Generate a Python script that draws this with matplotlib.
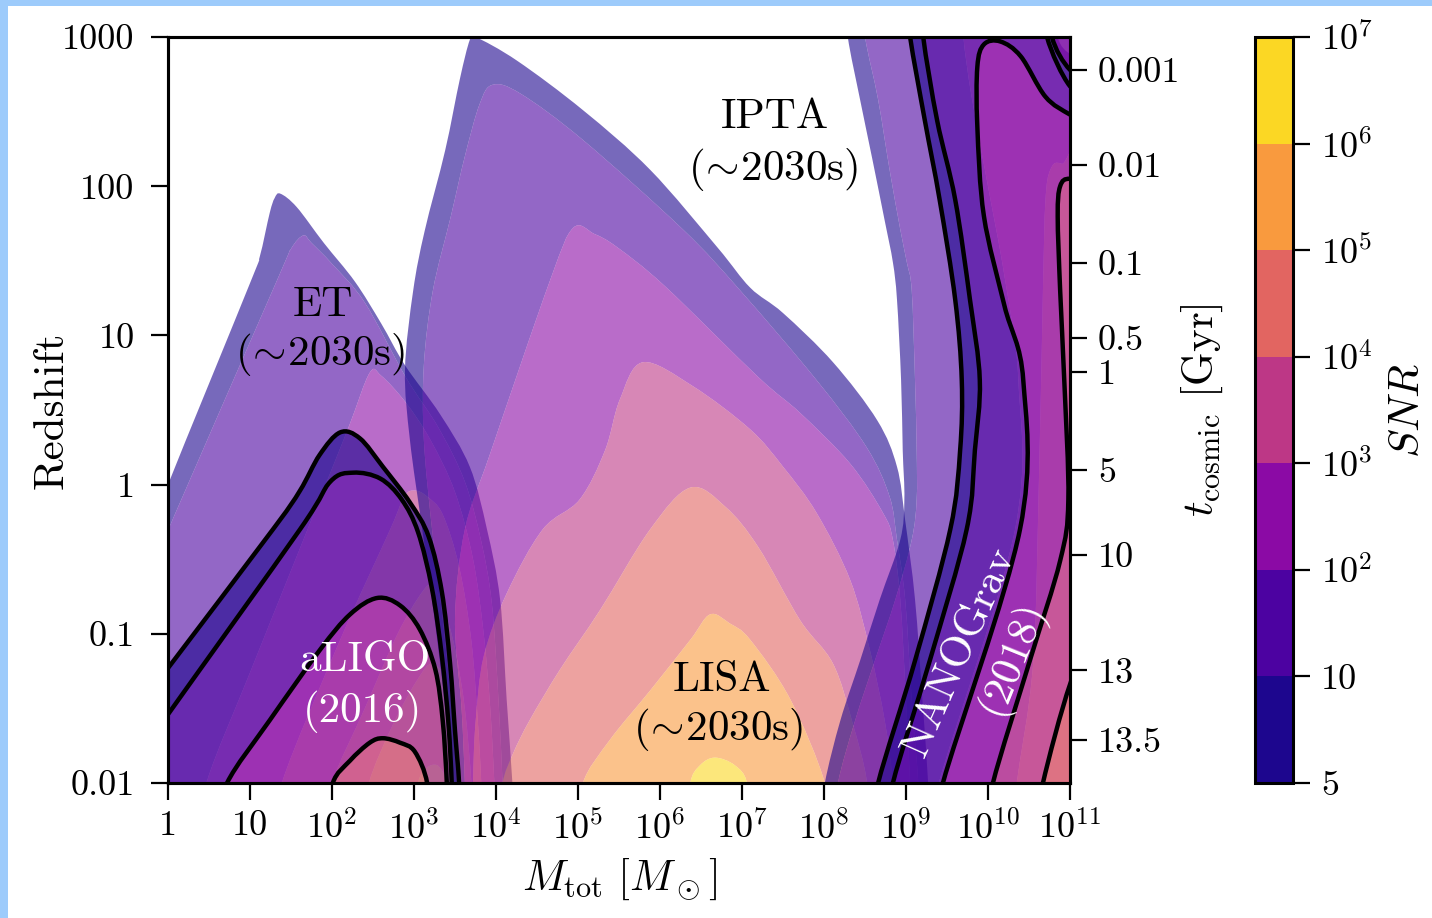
import numpy as np
import matplotlib
matplotlib.use("Agg")
import matplotlib.pyplot as plt
from matplotlib.path import Path
from matplotlib.patches import PathPatch, Rectangle
from matplotlib.colors import LogNorm, ListedColormap, BoundaryNorm
from matplotlib.cm import ScalarMappable
from matplotlib.ticker import NullLocator

plt.rcParams['font.family'] = ['cmr10', 'DejaVu Serif']
plt.rcParams['mathtext.fontset'] = 'cm'
plt.rcParams['axes.unicode_minus'] = False

# SNR levels of the filled contours
snr_levels = [5, 10, 1e2, 1e3, 1e4, 1e5, 1e6, 1e7]
snr_ticklabels = ['5', '10', r'$10^2$', r'$10^3$', r'$10^4$', r'$10^5$', r'$10^6$', r'$10^7$']

# contour boundaries, as (log10 M_tot, log10 z)
# one list per SNR threshold: 5, 10, 100, 1e3, ...
et_snr5 = [(-0.3, -2.3), (-0.3, -0.45), (0.0, 0.0), (1.0, 1.35), (1.12, 1.53), (1.24, 1.82), (1.30, 1.92),
           (1.37, 1.95), (1.57, 1.86), (1.9, 1.62), (2.28, 1.36), (2.6, 1.08), (2.89, 0.80), (3.32, 0.47),
           (3.68, 0.12), (3.89, -0.30), (4.05, -0.77), (4.13, -1.44), (4.20, -2.0), (4.22, -2.3)]
et_snr10 = [(-0.3, -2.3), (-0.3, -0.7), (0.02, -0.28), (1.33, 1.37), (1.5, 1.58), (1.65, 1.67), (1.75, 1.62),
            (2.0, 1.48), (2.40, 1.22), (2.9, 0.72), (3.3, 0.38), (3.62, 0.02), (3.82, -0.38), (3.95, -0.8),
            (4.03, -1.44), (4.08, -2.0), (4.10, -2.3)]
et_snr100 = [(0.42, -2.3), (0.48, -1.98), (1.0, -1.26), (1.49, -0.59), (1.98, 0.08), (2.22, 0.41),
             (2.46, 0.75), (2.6, 0.73), (2.9, 0.55), (3.2, 0.3), (3.5, -0.05), (3.72, -0.5), (3.85, -1.0),
             (3.93, -1.5), (3.98, -2.0), (4.0, -2.3)]
et_snr1e3 = [(1.35, -2.3), (1.40, -1.98), (2.10, -1.04), (2.71, -0.30), (2.88, -0.08), (3.01, -0.04),
             (3.16, -0.08), (3.35, -0.2), (3.55, -0.55), (3.7, -1.05), (3.78, -1.6), (3.82, -2.0), (3.83, -2.3)]
et_snr1e4 = [(1.95, -2.3), (2.0, -2.0), (2.4, -1.5), (2.8, -1.0), (3.1, -0.72), (3.22, -0.68), (3.35, -0.8),
             (3.5, -1.1), (3.62, -1.5), (3.7, -2.0), (3.71, -2.3)]
et_snr1e5 = [(2.4, -2.3), (2.45, -2.0), (2.75, -1.6), (3.05, -1.3), (3.22, -1.2), (3.38, -1.3), (3.5, -1.6),
             (3.58, -2.0), (3.59, -2.3)]
et_snr1e6 = [(3.0, -2.3), (3.05, -2.0), (3.15, -1.9), (3.28, -1.88), (3.38, -1.95), (3.42, -2.0), (3.43, -2.3)]

ligo_snr5 = [(-0.3, -2.3), (-0.3, -1.45), (0.0, -1.23), (1.28, -0.30), (1.61, -0.04), (1.85, 0.20), (2.10, 0.35),
             (2.34, 0.31), (2.62, 0.12), (2.95, -0.12), (3.18, -0.35), (3.34, -0.72), (3.44, -1.2),
             (3.50, -1.65), (3.55, -2.0), (3.56, -2.3)]
ligo_snr10 = [(-0.3, -2.3), (-0.3, -1.78), (0.0, -1.54), (1.61, -0.30), (1.98, 0.02), (2.26, 0.08), (2.59, 0.04),
              (2.85, -0.10), (3.05, -0.32), (3.22, -0.70), (3.34, -1.15), (3.42, -1.6), (3.46, -2.0), (3.47, -2.3)]
ligo_snr100 = [(0.6, -2.3), (0.72, -2.0), (1.24, -1.58), (1.85, -1.11), (2.22, -0.87), (2.55, -0.76),
               (2.83, -0.81), (3.07, -0.97), (3.26, -1.24), (3.35, -1.58), (3.40, -2.0), (3.41, -2.3)]
ligo_snr1e3 = [(1.95, -2.3), (2.01, -2.0), (2.22, -1.85), (2.46, -1.73), (2.62, -1.70), (2.83, -1.73),
               (3.01, -1.79), (3.16, -2.0), (3.17, -2.3)]

lisa_snr5 = [(3.45, -2.3), (3.45, -2.0), (3.38, -1.5), (3.25, -0.9), (3.1, -0.3), (2.95, 0.3), (2.89, 0.77),
             (2.99, 1.30), (3.13, 1.70), (3.38, 2.24), (3.56, 2.72), (3.68, 2.98), (3.75, 3.0), (4.26, 2.84),
             (5.06, 2.51), (5.88, 2.11), (6.70, 1.59), (7.10, 1.32), (7.50, 1.15), (8.11, 0.82), (8.65, 0.43),
             (8.89, 0.12), (8.99, -0.24), (9.11, -0.77), (9.20, -1.44), (9.27, -2.0), (9.28, -2.3)]
lisa_snr10 = [(3.52, -2.3), (3.52, -2.0), (3.46, -1.5), (3.35, -0.9), (3.22, -0.3), (3.12, 0.3), (3.12, 0.8),
              (3.23, 1.30), (3.45, 1.80), (3.62, 2.2), (3.80, 2.55), (3.96, 2.68), (4.3, 2.62), (5.06, 2.31),
              (6.28, 1.71), (6.98, 1.30), (7.91, 0.70), (8.52, 0.25), (8.80, -0.08), (8.89, -0.37),
              (8.99, -0.77), (9.07, -1.44), (9.15, -2.0), (9.16, -2.3)]
lisa_snr100 = [(3.62, -2.3), (3.62, -2.0), (3.58, -1.5), (3.5, -0.9), (3.62, -0.30), (3.93, 0.21),
               (4.66, 1.37), (4.94, 1.72), (5.2, 1.68), (5.48, 1.59), (6.06, 1.33), (7.2, 0.72), (7.71, 0.48),
               (8.32, 0.14), (8.72, -0.19), (8.84, -0.37), (8.93, -0.77), (9.0, -1.44), (9.05, -2.0), (9.06, -2.3)]
lisa_snr1e3 = [(3.72, -2.3), (3.72, -2.0), (3.75, -1.6), (3.85, -1.15), (4.13, -0.73), (4.57, -0.30),
               (5.02, -0.10), (5.33, 0.23), (5.51, 0.57), (5.79, 0.82), (6.4, 0.66), (7.10, 0.37), (7.50, 0.12),
               (7.91, -0.19), (8.32, -0.64), (8.56, -1.11), (8.74, -1.58), (8.84, -2.0), (8.85, -2.3)]
lisa_snr1e4 = [(4.05, -2.3), (4.08, -2.0), (4.21, -1.80), (4.41, -1.58), (4.78, -1.24), (5.27, -0.84),
               (5.88, -0.30), (6.37, -0.02), (6.8, -0.15), (7.2, -0.42), (7.71, -0.91), (8.11, -1.20),
               (8.35, -1.6), (8.52, -1.98), (8.53, -2.3)]
lisa_snr1e5 = [(5.06, -2.3), (5.06, -2.0), (5.39, -1.71), (5.88, -1.38), (6.37, -1.04), (6.61, -0.87),
               (6.85, -0.93), (7.10, -1.04), (7.59, -1.44), (8.01, -2.0), (8.02, -2.3)]
lisa_snr1e6 = [(6.37, -2.3), (6.37, -2.0), (6.49, -1.88), (6.67, -1.83), (6.91, -1.88), (7.06, -2.0), (7.06, -2.3)]

ipta_snr5 = [(7.95, -2.3), (8.01, -2.0), (8.20, -1.58), (8.44, -1.18), (8.68, -0.77), (8.93, -0.37), (8.98, -0.10),
             (8.96, 0.23), (8.94, 0.70), (8.89, 1.24), (8.84, 1.49), (8.74, 1.77), (8.59, 2.18), (8.44, 2.58),
             (8.29, 3.0), (8.25, 3.3), (10.82, 3.3), (10.85, 3.0), (11.02, 2.88), (11.3, 2.85), (11.3, -2.3)]
ipta_snr10 = [(8.12, -2.3), (8.17, -2.0), (8.38, -1.58), (8.62, -1.18), (8.87, -0.77), (9.07, -0.37),
              (9.13, -0.10), (9.13, 0.23), (9.11, 0.70), (9.07, 1.30), (9.01, 1.49), (8.93, 1.71), (8.80, 2.11),
              (8.66, 2.58), (8.50, 3.0), (8.45, 3.3), (10.76, 3.3), (10.80, 3.0), (11.0, 2.8), (11.3, 2.75),
              (11.3, -2.3)]
ipta_snr100 = [(9.35, -2.3), (9.40, -2.0), (10.33, -0.30), (10.37, 0.70), (10.2, 1.4), (10.0, 2.0), (9.8, 2.6),
               (9.70, 3.0), (9.68, 3.3), (10.6, 3.3), (11.3, 2.6), (11.3, -2.3)]
ipta_snr1e3 = [(10.3, -2.3), (10.35, -2.0), (10.55, -1.2), (10.62, 0.0), (10.67, 1.3), (10.70, 1.9),
               (10.76, 2.11), (10.9, 2.15), (11.3, 2.0), (11.3, -2.3)]

nano_snr5 = [(8.60, -2.3), (8.66, -2.0), (9.11, -1.18), (9.54, -0.30), (9.66, 0.23), (9.68, 0.70), (9.60, 1.24),
             (9.41, 1.91), (9.23, 2.44), (9.05, 3.0), (9.0, 3.3), (10.75, 3.3), (10.78, 3.0), (11.0, 2.78),
             (11.3, 2.7), (11.3, -2.3)]
nano_snr10 = [(8.78, -2.3), (8.84, -2.0), (9.29, -1.18), (9.74, -0.30), (9.84, 0.23), (9.90, 0.70), (9.78, 1.24),
              (9.60, 1.91), (9.38, 2.44), (9.21, 3.0), (9.18, 3.3), (10.69, 3.3), (10.72, 3.0), (11.0, 2.67),
              (11.3, 2.6), (11.3, -2.3)]
nano_snr100 = [(9.40, -2.3), (9.45, -2.0), (10.39, -0.30), (10.43, 0.70), (10.2, 1.2), (9.95, 1.8), (9.87, 2.4),
               (9.87, 2.8), (9.95, 2.95), (10.15, 2.97), (10.4, 2.87), (10.7, 2.6), (11.0, 2.48), (11.3, 2.4),
               (11.3, -2.3)]
nano_snr1e3 = [(10.0, -2.3), (10.06, -2.0), (10.51, -1.18), (10.88, -0.51), (10.98, -0.10), (10.93, 0.7),
               (10.88, 1.3), (10.85, 1.8), (10.88, 2.0), (11.0, 2.05), (11.3, 2.0), (11.3, -2.3)]
nano_snr1e4 = [(10.6, -2.3), (10.67, -2.0), (11.0, -1.34), (11.3, -1.0), (11.3, -2.3)]

# right axis: cosmic time ticks and the redshift they sit at
t_cosmic_labels = ['0.001', '0.01', '0.1', '0.5', '1', '5', '10', '13', '13.5']
t_cosmic_z = [601, 139, 30.6, 9.6, 5.7, 1.25, 0.337, 0.057, 0.0194]

# colours of each band (plasma, log-normalised at the band centre)
lnorm = LogNorm(vmin=5, vmax=1e7)
band_colors = [plt.cm.plasma(lnorm(np.sqrt(lo * hi))) for lo, hi in zip(snr_levels[:-1], snr_levels[1:])]


def signed_area(a):
    x, y = a[:, 0], a[:, 1]
    return 0.5 * np.sum(x * np.roll(y, -1) - np.roll(x, -1) * y)


def smooth_ring(a):
    # closed ring through the points, drawn as cubic Bezier pieces (Catmull-Rom tangents)
    n = len(a)
    verts = [a[0]]
    codes = [Path.MOVETO]
    for i in range(n):
        p0, p1, p2, p3 = a[i - 1], a[i], a[(i + 1) % n], a[(i + 2) % n]
        verts += [p1 + (p2 - p0) / 6.0, p2 - (p3 - p1) / 6.0, p2]
        codes += [Path.CURVE4] * 3
    verts.append(a[0])
    codes.append(Path.CLOSEPOLY)
    return 10.0 ** np.array(verts), codes


def draw_bands(ax, contours, alpha=0.6, lines=False):
    for k, pts in enumerate(contours):
        outer = np.array(pts, float)
        if signed_area(outer) < 0:
            outer = outer[::-1]
        rings = [outer]
        if k + 1 < len(contours):
            inner = np.array(contours[k + 1], float)
            if signed_area(inner) > 0:
                inner = inner[::-1]
            rings.append(inner)
        verts, codes = [], []
        for r in rings:
            v, c = smooth_ring(r)
            verts.append(v)
            codes += c
        ax.add_patch(PathPatch(Path(np.vstack(verts), codes), facecolor=band_colors[k],
                               alpha=alpha, lw=0))
    if lines:
        for pts in contours:
            v, c = smooth_ring(np.array(pts, float))
            ax.add_patch(PathPatch(Path(v, c), fill=False, edgecolor='k', lw=3.2, zorder=3))


fig = plt.figure(figsize=(14.32, 9.18), dpi=100)
fig.patch.set_facecolor('#9dcbfb')
fig.add_artist(Rectangle((8 / 1432, 0), 1, 1 - 6 / 918, transform=fig.transFigure,
                         facecolor='white', edgecolor='none', zorder=-10))

ax = fig.add_axes([168 / 1432, 1 - 783 / 918, 902 / 1432, 746 / 918])
ax.set_xscale('log')
ax.set_yscale('log')

draw_bands(ax, [et_snr5, et_snr10, et_snr100, et_snr1e3, et_snr1e4, et_snr1e5, et_snr1e6])
draw_bands(ax, [lisa_snr5, lisa_snr10, lisa_snr100, lisa_snr1e3, lisa_snr1e4, lisa_snr1e5, lisa_snr1e6])
draw_bands(ax, [ipta_snr5, ipta_snr10, ipta_snr100, ipta_snr1e3])
draw_bands(ax, [ligo_snr5, ligo_snr10, ligo_snr100, ligo_snr1e3], lines=True)
draw_bands(ax, [nano_snr5, nano_snr10, nano_snr100, nano_snr1e3, nano_snr1e4], lines=True)

ax.set_xlim(1, 1e11)
ax.set_ylim(0.01, 1000)

xt = [10.0 ** i for i in range(12)]
ax.set_xticks(xt)
ax.set_xticklabels(['1', '10'] + [r'$10^{%d}$' % i for i in range(2, 12)])
ax.set_yticks([0.01, 0.1, 1, 10, 100, 1000])
ax.set_yticklabels(['0.01', '0.1', '1', '10', '100', '1000'])
ax.xaxis.set_minor_locator(NullLocator())
ax.yaxis.set_minor_locator(NullLocator())
ax.tick_params(labelsize=26, length=12, width=1.6, pad=8)
ax.tick_params(axis='y', pad=12)
for s in ax.spines.values():
    s.set_linewidth(2.2)

ax.set_xlabel(r'$M_{\rm tot}\ [M_\odot]$', fontsize=31)
ax.xaxis.set_label_coords(0.5, -0.098)
ax.set_ylabel('Redshift', fontsize=31)
ax.yaxis.set_label_coords(-0.108, 0.5)

ax2 = ax.twinx()
ax2.set_yscale('log')
ax2.set_ylim(0.01, 1000)
ax2.set_yticks(t_cosmic_z)
ax2.set_yticklabels(t_cosmic_labels)
ax2.yaxis.set_minor_locator(NullLocator())
ax2.tick_params(labelsize=26, length=12, width=1.6, pad=8)
for s in ax2.spines.values():
    s.set_linewidth(2.2)
ax2.set_ylabel(r'$t_{\rm cosmic}$ [Gyr]', fontsize=31)
ax2.yaxis.set_label_coords(1.122, 0.5)

# labels of the detectors
sim = r'($\!\sim\!$2030s)'
ann = dict(fontsize=31, ha='center', va='center')
ax.text(10 ** 1.89, 10 ** 1.20, 'ET', **ann)
ax.text(10 ** 1.85, 10 ** 0.87, sim, **ann)
ax.text(10 ** 7.40, 10 ** 2.46, 'IPTA', **ann)
ax.text(10 ** 7.38, 10 ** 2.11, sim, **ann)
ax.text(10 ** 6.76, 10 ** -1.31, 'LISA', **ann)
ax.text(10 ** 6.71, 10 ** -1.64, sim, **ann)
ax.text(10 ** 2.40, 10 ** -1.18, 'aLIGO', color='white', **ann)
ax.text(10 ** 2.37, 10 ** -1.52, '(2016)', color='white', **ann)
ax.text(10 ** 9.65, 10 ** -1.12, 'NANOGrav', color='white', rotation=66, rotation_mode='anchor', **ann)
ax.text(10 ** 10.30, 10 ** -1.16, '(2018)', color='white', rotation=68, rotation_mode='anchor', **ann)

# colour bar
cax = fig.add_axes([1255 / 1432, 1 - 783 / 918, 38 / 1432, 746 / 918])
cb = fig.colorbar(ScalarMappable(norm=BoundaryNorm(snr_levels, len(band_colors)),
                                 cmap=ListedColormap(band_colors)),
                  cax=cax, ticks=snr_levels, spacing='uniform')
cb.set_ticklabels(snr_ticklabels)
cb.ax.tick_params(labelsize=26, length=12, width=1.6, pad=8)
cb.outline.set_linewidth(2.2)
cb.set_label(r'$SNR$', fontsize=31)
cb.ax.yaxis.set_label_coords(3.55, 0.5)

fig.savefig('out.png', dpi=100)
